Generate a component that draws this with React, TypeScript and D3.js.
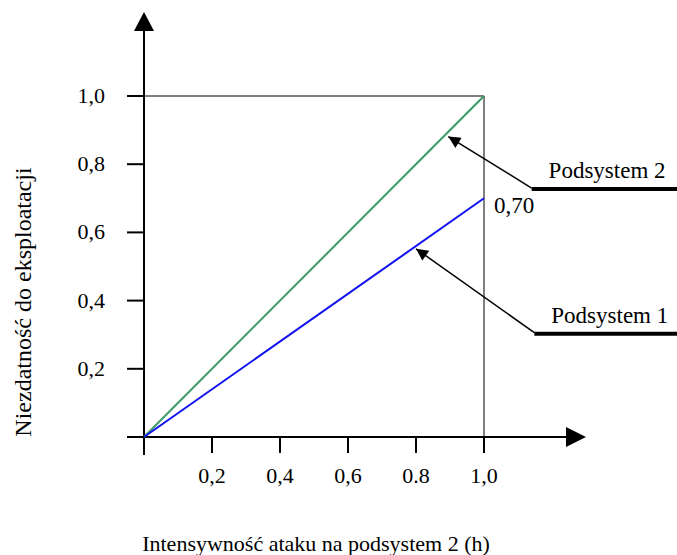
import * as d3 from "d3";

const xTicks = [0.2, 0.4, 0.6, 0.8, 1.0];
const xTickLabels = ["0,2", "0,4", "0,6", "0.8", "1,0"];
const yTicks = [0.2, 0.4, 0.6, 0.8, 1.0];
const yTickLabels = ["0,2", "0,4", "0,6", "0,8", "1,0"];

const series = [
  { name: "Podsystem 2", color: "#3a9a6a", points: [[0, 0], [1, 1.0]] },
  { name: "Podsystem 1", color: "#1010f0", points: [[0, 0], [1, 0.7]] },
];

// callouts: arrow from label (start) to the line (tip), in data units
const callouts = [
  { label: "Podsystem 2", start: [1.14, 0.73], tip: [0.895, 0.881] },
  { label: "Podsystem 1", start: [1.148, 0.306], tip: [0.8, 0.552] },
];

const endLabel = "0,70";

export default function App() {
  const width = 677;
  const height = 555;
  const x = d3.scaleLinear().domain([0, 1]).range([144, 484]);
  const y = d3.scaleLinear().domain([0, 1]).range([437, 96]);
  const font = "Liberation Serif, Times New Roman, serif";
  const line = d3
    .line<number[]>()
    .x((d) => x(d[0]))
    .y((d) => y(d[1]));

  return (
    <svg
      width={width}
      height={height}
      style={{ position: "absolute", left: 0, top: 0, background: "#fff", fontFamily: font }}
    >
      <defs>
        <marker
          id="head"
          viewBox="0 0 10 10"
          refX="10"
          refY="5"
          markerWidth="14"
          markerHeight="12"
          markerUnits="userSpaceOnUse"
          orient="auto"
        >
          <path d="M0,0 L10,5 L0,10 z" fill="#000" />
        </marker>
      </defs>

      {/* thin frame lines at 1,0 */}
      <line x1={x(0)} x2={x(1)} y1={y(1)} y2={y(1)} stroke="#000" strokeWidth={1} />
      <line x1={x(1)} x2={x(1)} y1={y(1)} y2={y(0) + 16} stroke="#000" strokeWidth={1} />

      {/* axes */}
      <line x1={x(0) - 17} x2={568} y1={y(0)} y2={y(0)} stroke="#000" strokeWidth={2} />
      <path d={`M566,${y(0) - 10} L586,${y(0)} L566,${y(0) + 10} z`} fill="#000" />
      <line x1={x(0)} x2={x(0)} y1={30} y2={y(0) + 18} stroke="#000" strokeWidth={2} />
      <path d={`M${x(0) - 10},31 L${x(0)},12 L${x(0) + 10},31 z`} fill="#000" />

      {/* x ticks */}
      {xTicks.map((t, i) => (
        <g key={"x" + t}>
          <line x1={x(t)} x2={x(t)} y1={y(0)} y2={y(0) + 16} stroke="#000" strokeWidth={2} />
          <text x={x(t)} y={y(0) + 46} style={{ fontSize: "22px" }} textAnchor="middle">
            {xTickLabels[i]}
          </text>
        </g>
      ))}

      {/* y ticks */}
      {yTicks.map((t, i) => (
        <g key={"y" + t}>
          <line x1={x(0) - 17} x2={x(0)} y1={y(t)} y2={y(t)} stroke="#000" strokeWidth={2} />
          <text x={105} y={y(t) + 7} style={{ fontSize: "22px" }} textAnchor="end">
            {yTickLabels[i]}
          </text>
        </g>
      ))}

      {/* series */}
      {series.map((s) => (
        <path key={s.name} d={line(s.points) ?? ""} fill="none" stroke={s.color} strokeWidth={2} />
      ))}

      <text x={x(1) + 10} y={y(0.7) + 15} style={{ fontSize: "23px" }}>
        {endLabel}
      </text>

      {/* callouts */}
      {callouts.map((c) => (
        <g key={c.label}>
          <line
            x1={x(c.start[0])}
            y1={y(c.start[1])}
            x2={x(c.tip[0])}
            y2={y(c.tip[1])}
            stroke="#000"
            strokeWidth={1.5}
            markerEnd="url(#head)"
          />
          <line
            x1={x(c.start[0])}
            x2={width}
            y1={y(c.start[1]) + 1}
            y2={y(c.start[1]) + 1}
            stroke="#000"
            strokeWidth={4}
          />
          <text x={x(c.start[0]) + 17} y={y(c.start[1]) - 10} style={{ fontSize: "23px" }}>
            {c.label}
          </text>
        </g>
      ))}

      {/* axis titles */}
      <text
        transform={`translate(31,302) rotate(-90)`}
        style={{ fontSize: "24px" }}
        textAnchor="middle"
      >
        Niezdatność do eksploatacji
      </text>
      <text x={316} y={551} style={{ fontSize: "22px" }} textAnchor="middle">
        Intensywność ataku na podsystem 2 (h)
      </text>
    </svg>
  );
}
